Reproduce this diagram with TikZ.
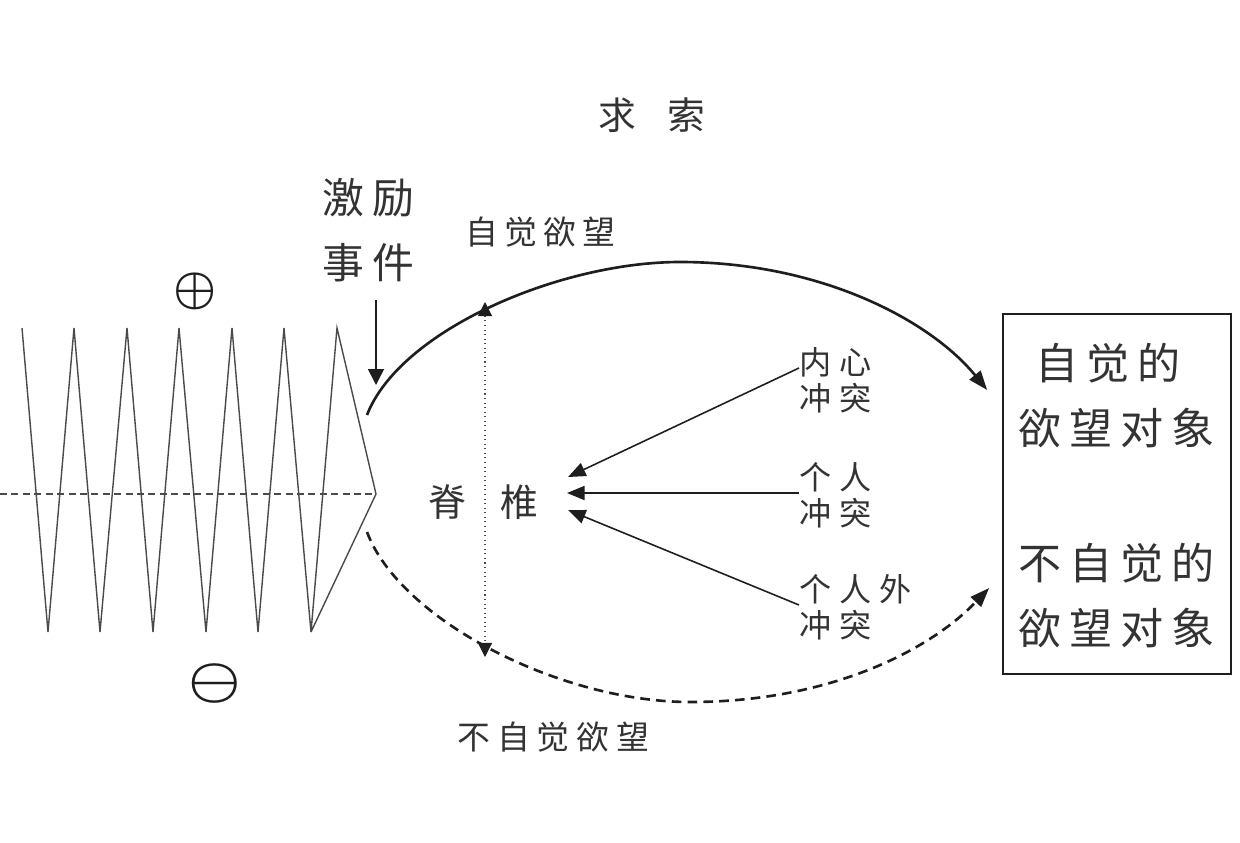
\documentclass[tikz,border=0pt]{standalone}
\usepackage{fontspec}
\newfontfamily\cjk{Noto Sans CJK SC}
\usetikzlibrary{arrows.meta,calc}
\definecolor{ink}{HTML}{1E1E1E}
\definecolor{txt}{HTML}{333333}
\definecolor{zz}{HTML}{4A4A4A}
\begin{document}
\begin{tikzpicture}[x=0.02cm,y=-0.02cm,
  lbl/.style={inner sep=0pt,anchor=west,text=txt,align=left},
  zig/.style={draw=zz,line width=0.8pt,line join=miter},
  axisline/.style={draw=zz,line width=0.7pt,dash pattern=on 4pt off 2.5pt},
  arcline/.style={draw=ink,line width=1.5pt},
  arcdash/.style={draw=ink,line width=1.5pt,dash pattern=on 5.5pt off 3.5pt},
  bigtip/.tip={Triangle[length=11pt,width=8pt]},
  midtip/.tip={Triangle[length=10pt,width=8pt]},
  spinetip/.tip={Triangle[length=8pt,width=8pt,color=ink]},
  conf/.style={draw=ink,line width=0.9pt,-midtip},
  dotline/.style={draw=zz,line width=0.6pt,dotted},
  sign/.style={inner sep=0pt,text=ink,font=\mathversion{bold}}]
\useasboundingbox (0,0) rectangle (1240,842);

% title
\node[lbl,font=\cjk\fontsize{21.5}{26}\selectfont] (title) at (598,115) {求\kern17.6pt 索};

% inciting incident
\node[lbl,font=\cjk\fontsize{23.8}{36.9}\selectfont] (jili) at (322,230) {激\kern4.5pt 励\\事\kern4.5pt 件};
\coordinate (hit) at (376,385);
\draw[draw=ink,line width=0.9pt,-{Triangle[length=9pt,width=9pt]}] ($(hit |- jili.south)+(0,18)$) -- (hit);

% plus / minus
\node[sign,scale=2.75] (plus) at (195,291) {$\oplus$};
\node[sign,xscale=3.35,yscale=2.95] (minus) at (215,684) {$\ominus$};

% zigzag
\draw[axisline] (0,494) -- (376,494);
\draw[zig] (22,328) -- (48,632) -- (74,328) -- (100,632) -- (127,328) -- (153,632) -- (179,328) -- (206,632) -- (232,328) -- (258,632) -- (284,328) -- (311,632) -- (337,328) -- (376,494) -- (311,632);

% box of objects
\node[draw=ink,line width=1pt,minimum width=4.56cm,minimum height=7.2cm,inner sep=0pt] (box) at (1117,494) {};
\node[lbl,font=\cjk\fontsize{24.5}{28}\selectfont] (o1) at (1035,363) {自\kern4.6pt 觉\kern4.6pt 的};
\node[lbl,font=\cjk\fontsize{24.5}{28}\selectfont] (o2) at (1018,428) {欲\kern4.6pt 望\kern4.6pt 对\kern4.6pt 象};
\node[lbl,font=\cjk\fontsize{24.5}{28}\selectfont] (o3) at (1018,563) {不\kern4.6pt 自\kern4.6pt 觉\kern4.6pt 的};
\node[lbl,font=\cjk\fontsize{24.5}{28}\selectfont] (o4) at (1018,628) {欲\kern4.6pt 望\kern4.6pt 对\kern4.6pt 象};

% desire arcs
\coordinate (a0) at (367,415);
\coordinate (a1) at ($(box.west)+(-15,-104)$);
\coordinate (b0) at (367,532);
\coordinate (b1) at ($(box.west)+(-13,94)$);
\draw[arcline,-bigtip] (a0) .. controls (400,330) and (560,262) .. (680,262) .. controls (820,262) and (930,320) .. (a1);
\draw[arcdash,-bigtip] (b0) .. controls (400,620) and (560,702) .. (690,702) .. controls (830,702) and (930,650) .. (b1);
\node[lbl,font=\cjk\fontsize{18.7}{22}\selectfont] (conscious) at (465,232) {自\kern3.6pt 觉\kern3.6pt 欲\kern3.6pt 望};
\node[lbl,font=\cjk\fontsize{18.7}{22}\selectfont] (unconscious) at (457,737) {不\kern3.9pt 自\kern3.9pt 觉\kern3.9pt 欲\kern3.9pt 望};

% spine
\coordinate (s0) at (485,302);
\coordinate (s1) at (485,657);
\draw[dotline,spinetip-spinetip] (s0) -- (s1);
\node[lbl,font=\cjk\fontsize{21.5}{26}\selectfont] (spine) at (428,502) {脊\kern19.3pt 椎};

% conflicts
\node[lbl,font=\cjk\fontsize{18.3}{20.4}\selectfont] (c1) at (799,380) {内\kern4.4pt 心\\冲\kern4.4pt 突};
\node[lbl,font=\cjk\fontsize{18.3}{20.4}\selectfont] (c2) at (799,495) {个\kern4.4pt 人\\冲\kern4.4pt 突};
\node[lbl,font=\cjk\fontsize{18.3}{20.4}\selectfont] (c3) at (799,607) {个\kern4.4pt 人\kern4.4pt 外\\冲\kern4.4pt 突};
\coordinate (t1) at (568,477);
\coordinate (t2) at (567,493);
\coordinate (t3) at (568,510);
\draw[conf] ($(c1.west)+(0,-12)$) -- (t1);
\draw[conf] ($(c2.west)+(0,-2)$) -- (t2);
\draw[conf] ($(c3.west)+(0,-2)$) -- (t3);
\end{tikzpicture}
\end{document}
